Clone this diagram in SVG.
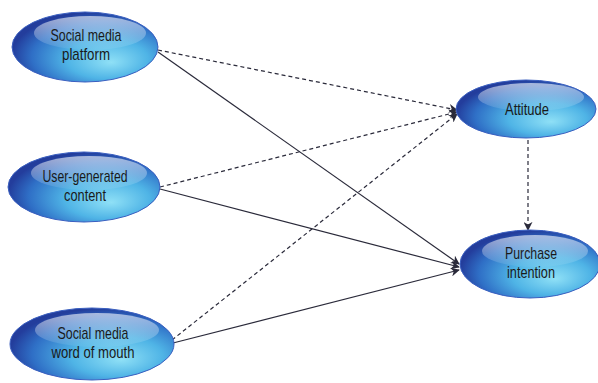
<svg xmlns="http://www.w3.org/2000/svg" width="598" height="383" viewBox="0 0 598 383">
<defs>
<radialGradient id="g" cx="0.62" cy="0.62" r="0.62" fx="0.68" fy="0.72">
<stop offset="0" stop-color="#8fe0f6"/>
<stop offset="0.45" stop-color="#4fb4e6"/>
<stop offset="0.8" stop-color="#2f6fc6"/>
<stop offset="1" stop-color="#233d9c"/>
</radialGradient>
<linearGradient id="h" x1="0" y1="0" x2="0" y2="1">
<stop offset="0" stop-color="#ffffff" stop-opacity="0.6"/>
<stop offset="1" stop-color="#ffffff" stop-opacity="0.05"/>
</linearGradient>
<marker id="a" viewBox="0 0 10 10" refX="9" refY="5" markerWidth="9" markerHeight="9" markerUnits="userSpaceOnUse" orient="auto">
<path d="M0,0 L10,5 L0,10 L3,5 z" fill="#2a2a3a"/>
</marker>
<style>
.n{fill:url(#g);stroke:#3a5fc0;stroke-width:1}
.hl{fill:url(#h)}
.t{font-family:"Liberation Sans",Arial,sans-serif;font-size:17px;fill:#1a1a1a;text-anchor:middle}
.s{stroke:#2a2a3a;stroke-width:1.2;fill:none;marker-end:url(#a)}
.d{stroke-dasharray:4,3}
</style>
</defs>
<g id="connectors">
<line class="s d" x1="158" y1="50" x2="457" y2="110"/>
<line class="s" x1="158" y1="52" x2="459" y2="264"/>
<line class="s d" x1="160" y1="187" x2="457" y2="112"/>
<line class="s" x1="160" y1="189" x2="459" y2="267"/>
<line class="s d" x1="172" y1="340" x2="457" y2="114"/>
<line class="s" x1="173" y1="343" x2="459" y2="270"/>
<line class="s d" x1="528" y1="140" x2="528" y2="230"/>
</g>
<g id="smp">
<ellipse class="n" cx="85" cy="47" rx="73" ry="35"/>
<ellipse class="hl" cx="90" cy="33" rx="56" ry="17"/>
<text class="t" x="86" y="41" textLength="71" lengthAdjust="spacingAndGlyphs">Social media</text>
<text class="t" x="86" y="60" textLength="48" lengthAdjust="spacingAndGlyphs">platform</text>
</g>
<g id="ugc">
<ellipse class="n" cx="84" cy="187" rx="76" ry="35"/>
<ellipse class="hl" cx="89" cy="173" rx="58" ry="17"/>
<text class="t" x="85" y="182" textLength="85" lengthAdjust="spacingAndGlyphs">User-generated</text>
<text class="t" x="85" y="201" textLength="42" lengthAdjust="spacingAndGlyphs">content</text>
</g>
<g id="smwom">
<ellipse class="n" cx="92" cy="344" rx="82" ry="36"/>
<ellipse class="hl" cx="97" cy="330" rx="62" ry="17"/>
<text class="t" x="93" y="339" textLength="71" lengthAdjust="spacingAndGlyphs">Social media</text>
<text class="t" x="93" y="358" textLength="83" lengthAdjust="spacingAndGlyphs">word of mouth</text>
</g>
<g id="att">
<ellipse class="n" cx="526" cy="109" rx="70" ry="29"/>
<ellipse class="hl" cx="531" cy="97" rx="53" ry="14"/>
<text class="t" x="527" y="115" textLength="44" lengthAdjust="spacingAndGlyphs">Attitude</text>
</g>
<g id="pi">
<ellipse class="n" cx="530" cy="264" rx="70" ry="34"/>
<ellipse class="hl" cx="535" cy="251" rx="53" ry="16"/>
<text class="t" x="531" y="259" textLength="52" lengthAdjust="spacingAndGlyphs">Purchase</text>
<text class="t" x="531" y="278" textLength="48" lengthAdjust="spacingAndGlyphs">intention</text>
</g>
</svg>
